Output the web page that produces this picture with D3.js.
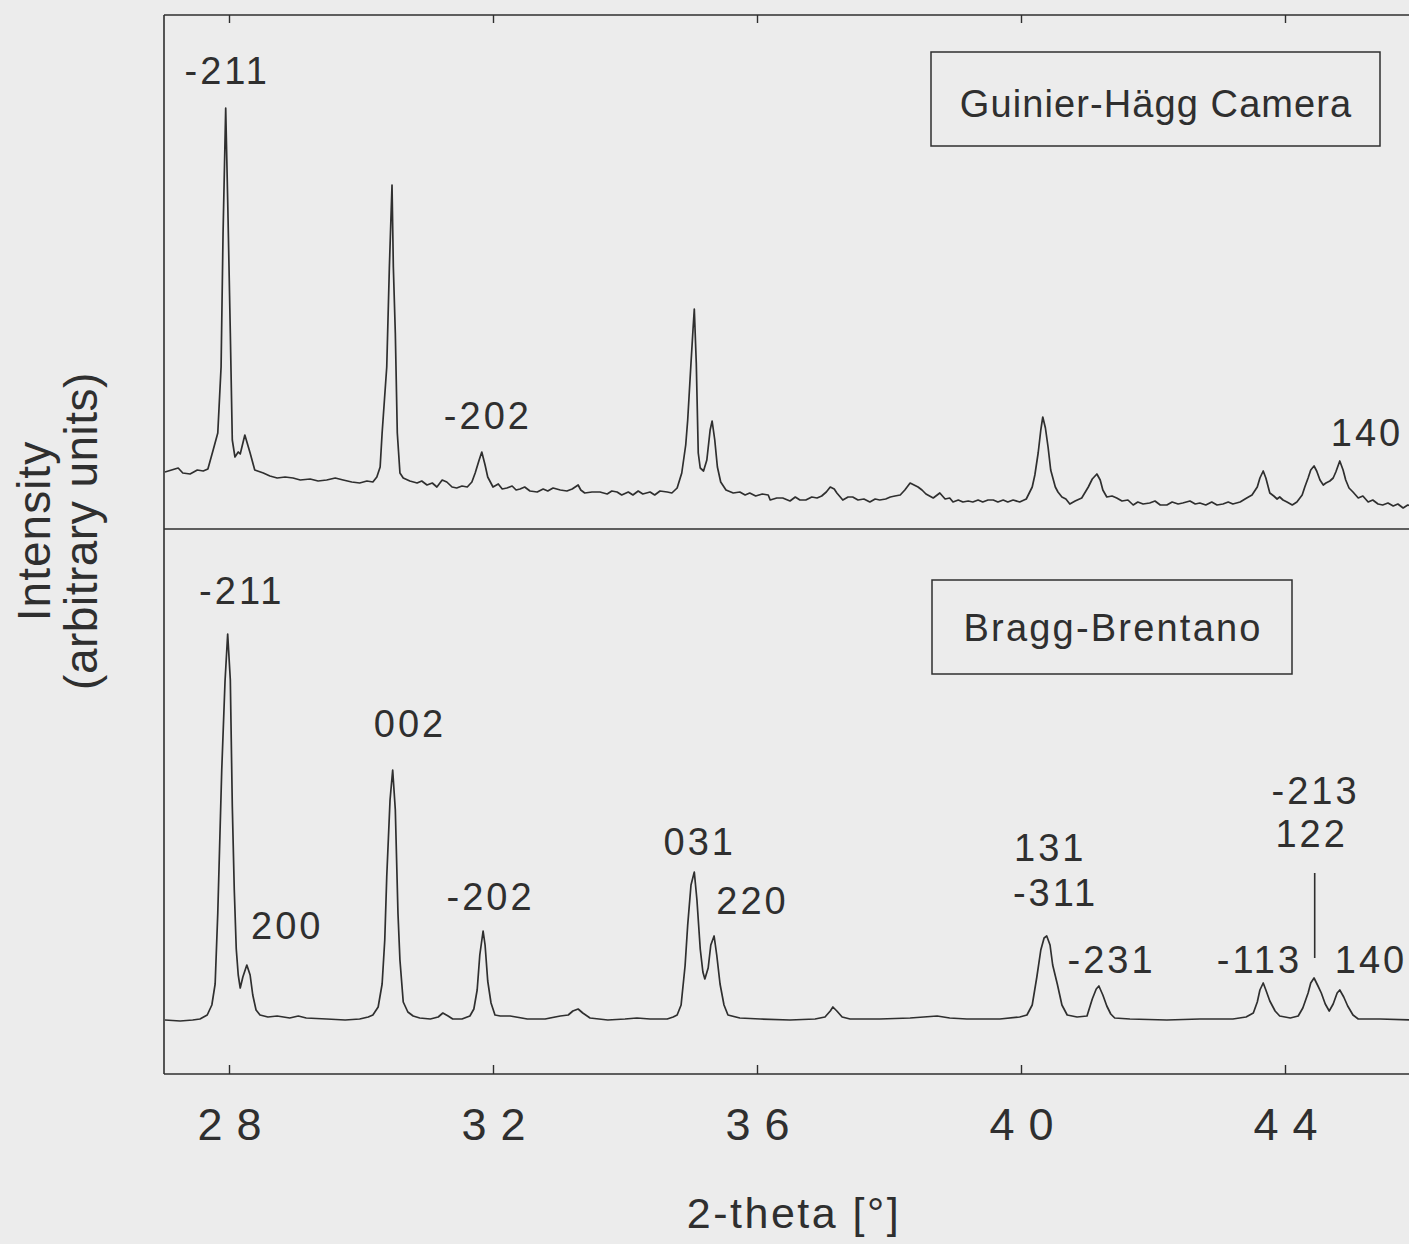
<!DOCTYPE html>
<html>
<head>
<meta charset="utf-8">
<script src="https://cdn.jsdelivr.net/npm/d3@7"></script>
<style>
  html, body { margin: 0; padding: 0; background: #ececec; }
  svg { display: block; font-family: "Liberation Sans", Arial, Helvetica, sans-serif; }
</style>
</head>
<body>
<svg id="chart" width="1409" height="1244"></svg>
<script>
// ---- data: 2-theta [deg], intensity [arbitrary units] ----
const xTicks = [28, 32, 36, 40, 44];

const panelTitles = ["Guinier-Hägg Camera", "Bragg-Brentano"];

// Guinier-Hägg camera trace
const guinierHagg = [
  [27.03,114],[27.23,122],[27.30,112],[27.41,110],[27.52,118],[27.61,116],[27.68,120],[27.76,158],
  [27.83,192],[27.88,324],[27.91,592],[27.95,842],[27.98,658],[28.02,392],[28.05,178],[28.09,144],
  [28.14,154],[28.17,150],[28.24,188],[28.32,152],[28.39,118],[28.52,112],[28.62,106],[28.73,102],
  [28.85,104],[28.97,102],[29.08,98],[29.23,100],[29.35,96],[29.48,98],[29.61,102],[29.73,98],
  [29.86,94],[29.98,92],[30.09,96],[30.18,94],[30.24,104],[30.29,124],[30.32,192],[30.39,324],
  [30.43,524],[30.47,688],[30.49,524],[30.52,392],[30.55,192],[30.59,112],[30.64,102],[30.74,96],
  [30.85,92],[30.92,96],[31.00,88],[31.08,92],[31.15,84],[31.23,98],[31.30,94],[31.38,84],
  [31.45,82],[31.53,86],[31.61,84],[31.68,94],[31.73,112],[31.79,138],[31.83,154],[31.88,128],
  [31.92,104],[32.00,84],[32.08,90],[32.14,80],[32.21,82],[32.29,86],[32.35,78],[32.41,80],
  [32.48,84],[32.56,76],[32.67,74],[32.76,80],[32.83,76],[32.91,82],[33.02,78],[33.12,76],
  [33.20,80],[33.29,88],[33.33,78],[33.39,72],[33.50,74],[33.62,74],[33.73,70],[33.80,76],
  [33.88,74],[33.95,68],[34.05,74],[34.12,68],[34.20,76],[34.27,70],[34.38,74],[34.45,68],
  [34.53,76],[34.64,74],[34.71,72],[34.79,82],[34.86,112],[34.92,168],[34.95,218],[35.00,332],
  [35.03,398],[35.05,440],[35.08,332],[35.11,152],[35.14,122],[35.19,116],[35.24,138],[35.29,198],
  [35.32,216],[35.36,178],[35.40,124],[35.45,94],[35.53,78],[35.64,72],[35.74,74],[35.82,68],
  [35.89,72],[35.98,66],[36.08,70],[36.17,68],[36.20,58],[36.30,62],[36.39,62],[36.50,56],
  [36.58,64],[36.65,58],[36.74,58],[36.83,64],[36.91,62],[36.98,66],[37.05,74],[37.11,84],
  [37.17,80],[37.21,72],[37.30,58],[37.38,64],[37.45,64],[37.53,58],[37.62,60],[37.71,54],
  [37.79,60],[37.86,58],[37.95,60],[38.02,64],[38.09,66],[38.17,68],[38.24,78],[38.32,92],
  [38.38,88],[38.44,84],[38.50,78],[38.56,70],[38.67,62],[38.73,68],[38.77,72],[38.85,60],
  [38.92,62],[38.97,54],[39.05,58],[39.12,54],[39.20,56],[39.27,54],[39.35,58],[39.42,54],
  [39.50,58],[39.58,58],[39.65,54],[39.73,58],[39.80,54],[39.88,58],[39.98,54],[40.08,60],
  [40.17,84],[40.21,108],[40.26,152],[40.30,198],[40.33,224],[40.37,202],[40.41,164],[40.45,118],
  [40.52,84],[40.56,74],[40.62,64],[40.68,60],[40.74,50],[40.82,56],[40.92,62],[41.02,84],
  [41.08,100],[41.15,110],[41.20,98],[41.24,78],[41.30,64],[41.38,66],[41.45,62],[41.53,56],
  [41.62,58],[41.70,48],[41.77,54],[41.85,50],[41.95,52],[42.03,56],[42.11,48],[42.21,48],
  [42.29,54],[42.38,50],[42.45,52],[42.56,56],[42.64,50],[42.71,52],[42.80,48],[42.89,54],
  [42.97,48],[43.06,50],[43.14,54],[43.21,50],[43.32,54],[43.42,62],[43.50,68],[43.58,84],
  [43.62,102],[43.67,116],[43.71,102],[43.77,72],[43.83,66],[43.88,60],[43.92,64],[43.97,58],
  [44.03,54],[44.11,48],[44.18,54],[44.26,68],[44.30,84],[44.35,102],[44.39,118],[44.44,126],
  [44.48,116],[44.53,98],[44.58,88],[44.62,92],[44.68,96],[44.73,102],[44.77,114],[44.83,136],
  [44.88,118],[44.92,98],[44.97,82],[45.03,74],[45.11,62],[45.18,66],[45.26,54],[45.33,58],
  [45.41,50],[45.48,48],[45.56,52],[45.64,46],[45.71,50],[45.79,42],[45.86,48],[45.92,46]
];

// Bragg-Brentano diffractometer trace
const braggBrentano = [
  [27.03,108],[27.26,106],[27.45,108],[27.56,110],[27.67,118],[27.74,138],[27.79,180],[27.83,322],
  [27.89,608],[27.94,786],[27.98,880],[28.02,788],[28.05,536],[28.08,368],[28.11,250],[28.14,198],
  [28.17,172],[28.21,194],[28.27,218],[28.32,198],[28.36,158],[28.41,128],[28.47,118],[28.59,114],
  [28.73,116],[28.92,112],[29.05,116],[29.17,112],[29.48,110],[29.76,108],[29.98,110],[30.11,114],
  [30.18,118],[30.26,134],[30.32,180],[30.36,268],[30.39,394],[30.44,548],[30.48,608],[30.52,528],
  [30.56,322],[30.59,228],[30.64,144],[30.71,124],[30.79,116],[30.89,112],[31.05,110],[31.17,114],
  [31.24,122],[31.32,116],[31.39,110],[31.53,110],[31.65,116],[31.71,130],[31.76,168],[31.80,238],
  [31.85,286],[31.88,258],[31.92,186],[31.97,142],[32.03,118],[32.11,116],[32.26,116],[32.52,110],
  [32.79,110],[33.02,116],[33.14,118],[33.21,126],[33.29,130],[33.36,122],[33.47,112],[33.74,108],
  [34.00,110],[34.18,112],[34.38,110],[34.64,110],[34.73,114],[34.79,118],[34.85,138],[34.91,216],
  [34.95,298],[35.00,378],[35.05,404],[35.09,348],[35.14,250],[35.18,204],[35.21,190],[35.26,212],
  [35.30,258],[35.35,276],[35.39,238],[35.44,180],[35.50,138],[35.56,118],[35.74,112],[36.05,110],
  [36.50,108],[36.88,110],[37.03,114],[37.11,126],[37.15,134],[37.21,126],[37.29,114],[37.41,110],
  [37.86,110],[38.32,112],[38.73,116],[38.92,112],[39.18,110],[39.68,110],[39.98,114],[40.09,118],
  [40.17,138],[40.24,194],[40.30,248],[40.35,272],[40.39,276],[40.44,258],[40.48,218],[40.55,180],
  [40.62,138],[40.70,118],[40.85,114],[41.00,116],[41.08,150],[41.14,170],[41.18,176],[41.24,158],
  [41.30,136],[41.36,120],[41.42,112],[41.65,110],[42.21,108],[42.71,110],[43.21,110],[43.41,114],
  [43.52,122],[43.58,144],[43.62,168],[43.67,182],[43.71,168],[43.77,146],[43.85,126],[43.92,116],
  [44.08,112],[44.20,116],[44.27,132],[44.35,162],[44.39,182],[44.44,192],[44.50,176],[44.55,162],
  [44.61,140],[44.67,126],[44.73,140],[44.79,162],[44.83,168],[44.89,154],[44.95,136],[45.03,118],
  [45.11,110],[45.44,110],[45.92,108]
];

// Miller-index annotations (anchor: 2-theta, intensity of the text baseline)
const guinierLabels = [
  { text: "-211", twoTheta: 27.95, intensity: 890 },
  { text: "-202", twoTheta: 31.90, intensity: 200 },
  { text: "140",  twoTheta: 45.22, intensity: 166 }
];
const braggLabels = [
  { text: "-211", twoTheta: 28.17, intensity: 940 },
  { text: "200",  twoTheta: 28.86, intensity: 270 },
  { text: "002",  twoTheta: 30.72, intensity: 674 },
  { text: "-202", twoTheta: 31.94, intensity: 328 },
  { text: "031",  twoTheta: 35.11, intensity: 438 },
  { text: "220",  twoTheta: 35.91, intensity: 320 },
  { text: "131",  twoTheta: 40.42, intensity: 426 },
  { text: "-311", twoTheta: 40.50, intensity: 336 },
  { text: "-231", twoTheta: 41.35, intensity: 202 },
  { text: "-113", twoTheta: 43.59, intensity: 202 },
  { text: "-213", twoTheta: 44.44, intensity: 540 },
  { text: "122",  twoTheta: 44.38, intensity: 454 },
  { text: "140",  twoTheta: 45.28, intensity: 202 }
];
// marker line pointing at the -213 / 122 reflection
const braggLeader = [[44.45, 402], [44.45, 232]];

// ---- layout ----
const W = 1409, H = 1244;
const plotLeft = 164, plotTop = 15, plotMid = 529, plotBottom = 1074;
const ink = "#2f2f2f";

const svg = d3.select("#chart");
svg.append("rect").attr("width", W).attr("height", H).attr("fill", "#ececec");

const x = d3.scaleLinear().domain([27, 46]).range([163, 1417]);
const yTop = d3.scaleLinear().domain([0, 1028]).range([plotMid, plotTop]);
const yBot = d3.scaleLinear().domain([0, 1090]).range([plotBottom, plotMid]);

svg.append("clipPath").attr("id", "plotClip")
  .append("rect").attr("x", plotLeft).attr("y", plotTop)
  .attr("width", W - plotLeft).attr("height", plotBottom - plotTop);

// frame
const frame = svg.append("g").attr("stroke", ink).attr("stroke-width", 1.6).attr("fill", "none");
frame.append("line").attr("x1", plotLeft).attr("x2", plotLeft).attr("y1", plotTop).attr("y2", plotBottom);
frame.append("line").attr("x1", plotLeft).attr("x2", x(46)).attr("y1", plotTop).attr("y2", plotTop);
frame.append("line").attr("x1", plotLeft).attr("x2", x(46)).attr("y1", plotMid).attr("y2", plotMid);
frame.append("line").attr("x1", plotLeft).attr("x2", x(46)).attr("y1", plotBottom).attr("y2", plotBottom);

// bottom axis: inward ticks, spaced numerals
const tickSpacing = 14;
const bottomAxis = svg.append("g")
  .attr("transform", `translate(0,${plotBottom})`)
  .call(d3.axisBottom(x).tickValues(xTicks).tickSizeInner(-9).tickSizeOuter(0).tickPadding(34));
bottomAxis.select(".domain").remove();
bottomAxis.selectAll(".tick line").attr("stroke", ink).attr("stroke-width", 1.4);
bottomAxis.selectAll(".tick text")
  .attr("fill", ink).attr("font-size", 45).attr("font-family", null)
  .attr("letter-spacing", tickSpacing).attr("dx", tickSpacing / 2);

// top axis: inward ticks only
const topAxis = svg.append("g")
  .attr("transform", `translate(0,${plotTop})`)
  .call(d3.axisTop(x).tickValues(xTicks).tickSizeInner(-8).tickSizeOuter(0).tickFormat(() => ""));
topAxis.select(".domain").remove();
topAxis.selectAll(".tick line").attr("stroke", ink).attr("stroke-width", 1.4);

// traces
const lineTop = d3.line().x(d => x(d[0])).y(d => yTop(d[1]));
const lineBot = d3.line().x(d => x(d[0])).y(d => yBot(d[1]));
const traces = svg.append("g").attr("clip-path", "url(#plotClip)")
  .attr("fill", "none").attr("stroke", ink).attr("stroke-width", 1.7).attr("stroke-linejoin", "round");
traces.append("path").datum(guinierHagg).attr("d", lineTop);
traces.append("path").datum(braggBrentano).attr("d", lineBot);

// leader line
svg.append("path").datum(braggLeader).attr("d", lineBot)
  .attr("stroke", ink).attr("stroke-width", 1.6).attr("fill", "none");

// peak labels
const labelSpacing = 3;
function drawLabels(data, y) {
  svg.append("g").selectAll("text").data(data).join("text")
    .attr("x", d => x(d.twoTheta) + labelSpacing / 2)
    .attr("y", d => y(d.intensity))
    .attr("text-anchor", "middle")
    .attr("font-size", 38).attr("letter-spacing", labelSpacing)
    .attr("fill", ink)
    .text(d => d.text);
}
drawLabels(guinierLabels, yTop);
drawLabels(braggLabels, yBot);

// panel title boxes
function titleBox(text, left, top, width, baseline, spacing) {
  const g = svg.append("g");
  g.append("rect").attr("x", left).attr("y", top)
    .attr("width", width).attr("height", 94)
    .attr("fill", "none").attr("stroke", ink).attr("stroke-width", 1.5);
  g.append("text").attr("x", left + width / 2 + spacing / 2).attr("y", baseline)
    .attr("text-anchor", "middle")
    .attr("font-size", 38).attr("letter-spacing", spacing).attr("fill", ink).text(text);
}
titleBox(panelTitles[0], 931, 52, 449, 117, 1.1);
titleBox(panelTitles[1], 932, 580, 360, 641, 2.2);

// axis titles
svg.append("text").attr("x", 794).attr("y", 1228).attr("text-anchor", "middle")
  .attr("font-size", 43).attr("letter-spacing", 2.5).attr("fill", ink).text("2-theta [°]");

const yTitle = svg.append("g").attr("transform", "translate(0,531) rotate(-90)");
yTitle.append("text").attr("x", 0).attr("y", 50).attr("text-anchor", "middle")
  .attr("font-size", 46).attr("letter-spacing", 1).attr("fill", ink).text("Intensity");
yTitle.append("text").attr("x", 0).attr("y", 97).attr("text-anchor", "middle")
  .attr("font-size", 46).attr("letter-spacing", 0.5).attr("fill", ink).text("(arbitrary units)");
</script>
</body>
</html>
